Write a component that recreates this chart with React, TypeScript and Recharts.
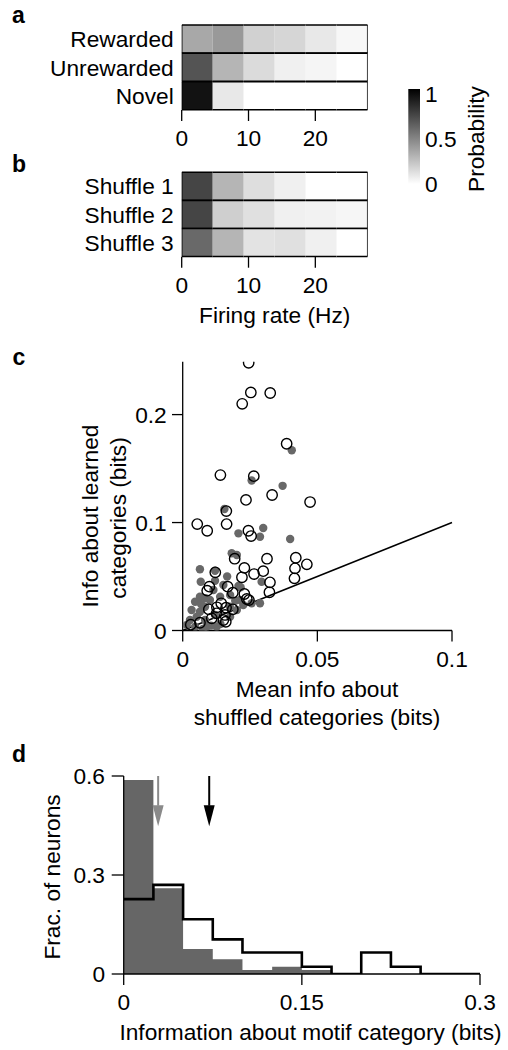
import React from 'react';
import {
  BarChart, Bar, XAxis, YAxis, ScatterChart, Scatter, ComposedChart, Area, Line,
  ReferenceLine, ReferenceArea, ReferenceDot,
} from 'recharts';

const FONT = '"Liberation Sans", Arial, Helvetica, sans-serif';
const FS = 22.7;

// ---------- panels a & b: firing-rate distributions ----------
const rateTicks = [0, 10, 20];
const rateMax = 27.84;
const binCount = 6;

const learnedRows = ['Rewarded', 'Unrewarded', 'Novel'];
const rewardedProb = [0.34, 0.4, 0.18, 0.16, 0.09, 0.03];
const unrewardedProb = [0.67, 0.29, 0.14, 0.06, 0.04, 0];
const novelProb = [0.93, 0.09, 0, 0, 0, 0];

const shuffleRows = ['Shuffle 1', 'Shuffle 2', 'Shuffle 3'];
const shuffle1Prob = [0.73, 0.29, 0.13, 0.06, 0, 0];
const shuffle2Prob = [0.73, 0.19, 0.12, 0.06, 0.05, 0.035];
const shuffle3Prob = [0.59, 0.29, 0.11, 0.12, 0.06, 0];

const colorbarTicks = [0, 0.5, 1];

// ---------- panel c: info scatter (x: shuffled, y: learned) ----------
const significantPts: [number, number][] = [
  [0.0245, 0.248], [0.0253, 0.2205], [0.0325, 0.22], [0.0221, 0.21], [0.0386, 0.173],
  [0.014, 0.144], [0.0264, 0.143], [0.0332, 0.1255], [0.0235, 0.121], [0.0473, 0.119],
  [0.0162, 0.1106], [0.0054, 0.0986], [0.0163, 0.0986], [0.0091, 0.0924], [0.0244, 0.0924],
  [0.0254, 0.0875], [0.0313, 0.0665], [0.0193, 0.0665], [0.0229, 0.058], [0.0265, 0.0523],
  [0.0299, 0.055], [0.0121, 0.0539], [0.022, 0.0493], [0.0324, 0.0446], [0.042, 0.0674],
  [0.0417, 0.0576], [0.0415, 0.0483], [0.0461, 0.0613], [0.0099, 0.0406], [0.0091, 0.0369],
  [0.0167, 0.0406], [0.0186, 0.035], [0.0229, 0.0338], [0.0322, 0.0354], [0.0238, 0.0292],
  [0.0246, 0.0282], [0.0143, 0.0252], [0.0127, 0.0215], [0.0097, 0.0196], [0.0161, 0.0211],
  [0.0186, 0.0196], [0.0126, 0.0159], [0.0157, 0.0144], [0.0108, 0.0113], [0.0151, 0.0097],
  [0.016, 0.0081], [0.0064, 0.0072], [0.003, 0.0054],
];
const otherPts: [number, number][] = [
  [0.0405, 0.167], [0.0256, 0.139], [0.0371, 0.134], [0.0155, 0.1125], [0.0299, 0.095],
  [0.0207, 0.09], [0.0287, 0.0869], [0.0399, 0.0847], [0.0182, 0.0715], [0.0201, 0.0699],
  [0.0064, 0.0567], [0.012, 0.0554], [0.0067, 0.0452], [0.0293, 0.0452], [0.0151, 0.0421],
  [0.0207, 0.0412], [0.0114, 0.0375], [0.0064, 0.0313], [0.0046, 0.0267], [0.0101, 0.0282],
  [0.0139, 0.0313], [0.0176, 0.0329], [0.0213, 0.0282], [0.0256, 0.0252], [0.0287, 0.0252],
  [0.0033, 0.019], [0.0064, 0.0174], [0.0083, 0.022], [0.0052, 0.0128], [0.0083, 0.0097],
  [0.0027, 0.0097], [0.0015, 0.0051], [0.0046, 0.0035], [0.0089, 0.0035], [0.0126, 0.0035],
  [0.0176, 0.0128], [0.0201, 0.019], [0.012, 0.0144], [0.0225, 0.0236], [0.0075, 0.0015],
  [0.0105, 0.0045], [0.014, 0.006], [0.0175, 0.022], [0.0085, 0.03], [0.012, 0.046],
  [0.0165, 0.05], [0.0215, 0.04], [0.0195, 0.0275], [0.0068, 0.0245],
];
const scatterXTicks = [0, 0.05, 0.1];
const scatterYTicks = [0, 0.1, 0.2];
const unityLine = [{ x: 0, y: 0 }, { x: 0.1, y: 0.1 }];

// ---------- panel d: histograms ----------
const binEdges = [0, 0.025, 0.05, 0.075, 0.1, 0.125, 0.15, 0.175, 0.2, 0.225, 0.25, 0.275, 0.3];
const shuffledFrac = [0.588, 0.26, 0.076, 0.045, 0.012, 0.022, 0.012, 0, 0, 0, 0, 0];
const learnedFrac = [0.227, 0.27, 0.166, 0.105, 0.065, 0.065, 0.022, 0, 0.065, 0.022, 0, 0];
const histXTicks = [0, 0.15, 0.3];
const histYTicks = [0, 0.3, 0.6];
const meanInfo = [0.029, 0.072];
const meanColors = ['#8a8a8a', '#000'];
const arrowTop = 0.6;
const arrowShaftEnd = 0.51;
const arrowTip = 0.448;

const histData = binEdges.map((x, i) => ({
  x,
  shuffled: i < shuffledFrac.length ? shuffledFrac[i] : shuffledFrac[shuffledFrac.length - 1],
  learned: i < learnedFrac.length ? learnedFrac[i] : learnedFrac[learnedFrac.length - 1],
}));

const gray = (p: number) => {
  const g = Math.round(255 * (1 - p));
  return `rgb(${g},${g},${g})`;
};

const tickStyle = { fill: '#000', fontSize: FS, fontFamily: FONT };
const lineStyle = { stroke: '#000', strokeWidth: 1.3 };
const fmt = (v: number) => (v === 0 ? '0' : String(v));

function Heatmap({ rows, probs, top, marginTop, marginBottom }: {
  rows: string[]; probs: number[][]; top: number; marginTop: number; marginBottom: number;
}) {
  const binW = rateMax / binCount;
  const data = rows.map((label) => {
    const o: any = { label };
    for (let i = 0; i < binCount; i++) o['b' + i] = binW;
    return o;
  });
  const makeShape = (bin: number) => (props: any) => {
    const { x, y, width, height, payload } = props;
    const r = Math.max(0, rows.indexOf(payload?.label));
    const p = probs[r][bin];
    const sw = 1.5;
    return (
      <g>
        <rect x={x} y={y} width={width} height={height} fill={gray(p)} />
        <line x1={x} x2={x + width} y1={y} y2={y} stroke="#000" strokeWidth={sw} />
        <line x1={x} x2={x + width} y1={y + height} y2={y + height} stroke="#000" strokeWidth={sw} />
        {bin === 0 && <line x1={x} x2={x} y1={y} y2={y + height} stroke="#000" strokeWidth={sw} />}
        {bin === binCount - 1 && (
          <line x1={x + width} x2={x + width} y1={y} y2={y + height} stroke="#000" strokeWidth={sw} />
        )}
      </g>
    );
  };
  return (
    <div style={{ position: 'absolute', left: 0, top }}>
      <BarChart
        width={508}
        height={160}
        layout="vertical"
        data={data}
        barCategoryGap={0}
        margin={{ top: marginTop, right: 140.3, left: 0, bottom: marginBottom }}
      >
        <XAxis
          type="number"
          domain={[0, rateMax]}
          ticks={rateTicks}
          allowDataOverflow
          axisLine={false}
          tickLine={lineStyle}
          tickSize={11}
          tickMargin={9}
          tick={tickStyle}
          height={40}
          interval={0}
        />
        <YAxis
          type="category"
          dataKey="label"
          width={181.7}
          axisLine={false}
          tickLine={false}
          tickSize={0}
          tickMargin={8}
          tick={tickStyle}
          interval={0}
        />
        {Array.from({ length: binCount }, (_, i) => (
          <Bar key={i} dataKey={'b' + i} stackId="s" isAnimationActive={false} shape={makeShape(i)} />
        ))}
      </BarChart>
    </div>
  );
}

function Colorbar() {
  return (
    <div style={{ position: 'absolute', left: 380, top: 70 }}>
      <ComposedChart
        width={128}
        height={130}
        data={[{ x: 0 }, { x: 1 }]}
        margin={{ top: 19, right: 0, left: 28.3, bottom: 16 }}
      >
        <defs>
          <linearGradient id="cbGrad" x1="0" y1="0" x2="0" y2="1">
            <stop offset="0" stopColor="#000" />
            <stop offset="1" stopColor="#fff" />
          </linearGradient>
        </defs>
        <XAxis type="number" dataKey="x" domain={[0, 1]} hide />
        <YAxis
          type="number"
          orientation="right"
          domain={[0, 1.06]}
          ticks={colorbarTicks}
          width={88}
          axisLine={false}
          tickLine={false}
          tickSize={0}
          tickMargin={5}
          tick={tickStyle}
          allowDataOverflow
          interval={0}
        />
        <ReferenceArea x1={0} x2={1} y1={0} y2={1.06} fill="url(#cbGrad)" fillOpacity={1} stroke="none" />
      </ComposedChart>
    </div>
  );
}

function InfoScatter() {
  const sig = significantPts.map(([x, y]) => ({ x, y }));
  const other = otherPts.map(([x, y]) => ({ x, y }));
  return (
    <div style={{ position: 'absolute', left: 0, top: 340 }}>
      <ScatterChart width={508} height={340} margin={{ top: 21.7, right: 56, left: 0, bottom: 9.5 }}>
        <XAxis
          type="number"
          dataKey="x"
          domain={[0, 0.1]}
          ticks={scatterXTicks}
          tickFormatter={fmt}
          axisLine={lineStyle}
          tickLine={lineStyle}
          tickSize={11}
          tickMargin={9}
          tick={tickStyle}
          height={40}
          allowDataOverflow
          interval={0}
        />
        <YAxis
          type="number"
          dataKey="y"
          domain={[0, 0.249]}
          ticks={scatterYTicks}
          tickFormatter={fmt}
          axisLine={lineStyle}
          tickLine={lineStyle}
          tickSize={10.7}
          tickMargin={5.3}
          tick={tickStyle}
          width={182.7}
          allowDataOverflow
          interval={0}
        />
        <ReferenceLine segment={unityLine} stroke="#000" strokeWidth={1.5} ifOverflow="visible" />
        <Scatter
          data={other}
          isAnimationActive={false}
          shape={(p: any) => <circle cx={p.cx} cy={p.cy} r={4.2} fill="#686868" />}
        />
        <Scatter
          data={sig}
          isAnimationActive={false}
          shape={(p: any) => (
            <circle cx={p.cx} cy={p.cy} r={5.2} fill="none" stroke="#000" strokeWidth={1.4} />
          )}
        />
      </ScatterChart>
    </div>
  );
}

function Histogram() {
  const arrowHead = (color: string) => (p: any) => (
    <path
      d={`M${p.cx},${p.cy} L${p.cx - 5.5},${p.cy - 21} L${p.cx + 5.5},${p.cy - 21} Z`}
      fill={color}
      stroke="none"
    />
  );
  return (
    <div style={{ position: 'absolute', left: 0, top: 750 }}>
      <ComposedChart
        width={508}
        height={284}
        data={histData}
        margin={{ top: 26, right: 28, left: 0, bottom: 0 }}
      >
        <XAxis
          type="number"
          dataKey="x"
          domain={[0, 0.3]}
          ticks={histXTicks}
          tickFormatter={fmt}
          axisLine={lineStyle}
          tickLine={lineStyle}
          tickSize={11}
          tickMargin={9}
          tick={tickStyle}
          height={60}
          allowDataOverflow
          interval={0}
        />
        <YAxis
          type="number"
          domain={[0, 0.6]}
          ticks={histYTicks}
          tickFormatter={fmt}
          axisLine={lineStyle}
          tickLine={lineStyle}
          tickSize={12}
          tickMargin={6.7}
          tick={tickStyle}
          width={123.7}
          allowDataOverflow
          interval={0}
        />
        <Area
          type="stepAfter"
          dataKey="shuffled"
          stroke="none"
          fill="#666"
          fillOpacity={1}
          baseValue={0}
          isAnimationActive={false}
          dot={false}
          activeDot={false}
        />
        <Line
          type="stepAfter"
          dataKey="learned"
          stroke="#000"
          strokeWidth={2.6}
          dot={false}
          activeDot={false}
          isAnimationActive={false}
        />
        {meanInfo.map((m, i) => (
          <ReferenceLine
            key={'s' + i}
            segment={[{ x: m, y: arrowTop }, { x: m, y: arrowShaftEnd }]}
            stroke={meanColors[i]}
            strokeWidth={2}
          />
        ))}
        {meanInfo.map((m, i) => (
          <ReferenceDot key={'h' + i} x={m} y={arrowTip} r={1} shape={arrowHead(meanColors[i])} />
        ))}
      </ComposedChart>
    </div>
  );
}

function Overlay() {
  const t = { fontFamily: FONT, fontSize: FS, fill: '#000' } as const;
  const b = { fontFamily: FONT, fontSize: 23, fontWeight: 700, fill: '#000' } as const;
  return (
    <svg
      width={508}
      height={1050}
      style={{ position: 'absolute', left: 0, top: 0, pointerEvents: 'none' }}
    >
      <text x={12} y={23.3} {...b}>a</text>
      <text x={12} y={171.7} {...b}>b</text>
      <text x={12.5} y={365} {...b}>c</text>
      <text x={12} y={762} {...b}>d</text>
      <text x={274.7} y={315} dy="0.36em" textAnchor="middle" {...t}>Firing rate (Hz)</text>
      <text transform="translate(476,139) rotate(-90)" dy="0.36em" textAnchor="middle" {...t}>Probability</text>
      <text transform="translate(90,516) rotate(-90)" dy="0.36em" textAnchor="middle" {...t}>Info about learned</text>
      <text transform="translate(118,518) rotate(-90)" dy="0.36em" textAnchor="middle" {...t}>categories (bits)</text>
      <text x={317} y={689} dy="0.36em" textAnchor="middle" {...t}>Mean info about</text>
      <text x={317} y={717} dy="0.36em" textAnchor="middle" {...t}>shuffled categories (bits)</text>
      <text transform="translate(51.7,877) rotate(-90)" dy="0.36em" textAnchor="middle" {...t}>Frac. of neurons</text>
      <text x={310.5} y={1031.7} dy="0.36em" textAnchor="middle" {...t}>Information about motif category (bits)</text>
    </svg>
  );
}

export default function App() {
  return (
    <div
      style={{
        position: 'absolute',
        left: 0,
        top: 0,
        width: 508,
        height: 1050,
        background: '#fff',
        fontFamily: FONT,
        overflow: 'hidden',
      }}
    >
      <Heatmap
        rows={learnedRows}
        probs={[rewardedProb, unrewardedProb, novelProb]}
        top={0}
        marginTop={25}
        marginBottom={10}
      />
      <Heatmap
        rows={shuffleRows}
        probs={[shuffle1Prob, shuffle2Prob, shuffle3Prob]}
        top={150}
        marginTop={22.3}
        marginBottom={13.3}
      />
      <Colorbar />
      <InfoScatter />
      <Histogram />
      <Overlay />
    </div>
  );
}
